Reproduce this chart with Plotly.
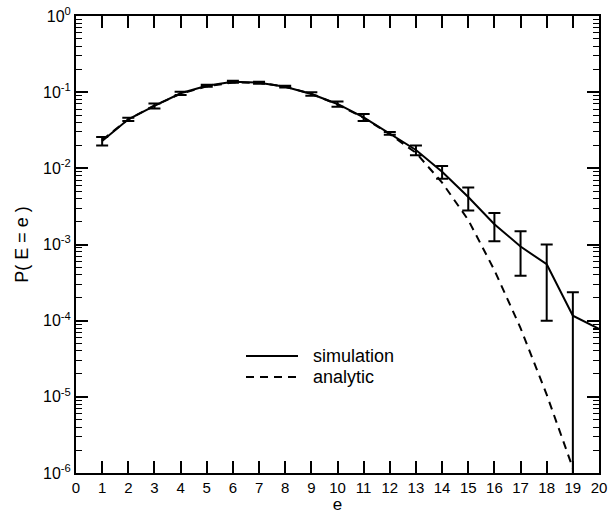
import plotly.graph_objects as go

# Energy level e
e_sim = list(range(1, 21))
# Simulated probability P(E = e) and its standard error
p_sim = [0.0229, 0.044, 0.066, 0.0966, 0.1216, 0.137, 0.133, 0.118, 0.0946, 0.070,
         0.0468, 0.0288, 0.0174, 0.0090, 0.0042, 0.00185, 0.00094, 0.00055, 0.000116, 0.000078]
p_sim_err = [0.0029, 0.0023, 0.005, 0.005, 0.004, 0.004, 0.004, 0.003, 0.005, 0.0055,
             0.0049, 0.0013, 0.0026, 0.0017, 0.0014, 0.00075, 0.00055, 0.00045, 0.00012, None]

# Analytic prediction
e_ana = list(range(1, 20))
p_ana = [0.0235, 0.044, 0.067, 0.095, 0.119, 0.134, 0.133, 0.118, 0.095, 0.069,
         0.046, 0.028, 0.0160, 0.0065, 0.0021, 0.00046, 8.0e-5, 1.07e-5, 1.16e-6]

# Log-axis decade labels
y_major = [1e0, 1e-1, 1e-2, 1e-3, 1e-4, 1e-5, 1e-6]
y_major_text = ["10<sup>0</sup>", "10<sup>-1</sup>", "10<sup>-2</sup>", "10<sup>-3</sup>",
                "10<sup>-4</sup>", "10<sup>-5</sup>", "10<sup>-6</sup>"]
y_minor = [k * 10.0 ** n for n in range(-6, 0) for k in range(2, 10)]

font_family = "Liberation Sans, Arial, Helvetica, sans-serif"

W, H = 608, 514
M_L, M_R, M_T, M_B = 76, 9, 16, 41
plot_w = W - M_L - M_R
plot_h = H - M_T - M_B


def px_to_paper(px, py):
    return (px - M_L) / plot_w, (H - M_B - py) / plot_h


fig = go.Figure()

fig.add_trace(go.Scatter(
    x=e_ana, y=p_ana, mode="lines", name="analytic", showlegend=False,
    line=dict(color="black", width=2, dash="8px,6px"),
))

fig.add_trace(go.Scatter(
    x=e_sim, y=p_sim, mode="lines", name="simulation", showlegend=False,
    line=dict(color="black", width=2),
    error_y=dict(type="data", array=p_sim_err, symmetric=True,
                 color="black", thickness=2, width=6),
))

axis_common = dict(
    showgrid=False, zeroline=False, automargin=False,
    showline=True, linecolor="black", linewidth=2, mirror="ticks",
    ticks="inside", tickcolor="black", tickwidth=1.5, ticklen=12,
)

fig.update_xaxes(
    range=[0, 20], tickmode="linear", tick0=0, dtick=1,
    tickfont=dict(family=font_family, size=15, color="black"),
    title=dict(text="e", font=dict(family=font_family, size=17, color="black"), standoff=0),
    **axis_common,
)

fig.update_yaxes(
    type="log", range=[-6, 0],
    tickmode="array", tickvals=y_major, ticktext=y_major_text,
    tickfont=dict(family=font_family, size=16, color="black"),
    minor=dict(ticks="inside", ticklen=6, tickwidth=1.2, tickcolor="black",
               tickmode="array", tickvals=y_minor, showgrid=False),
    title=dict(text="P( E = e )", font=dict(family=font_family, size=18, color="black"), standoff=10),
    **axis_common,
)

# Legend key: line samples with their labels
legend_rows = [("simulation", "solid", 356), ("analytic", "8px,6px", 377)]
shapes, annotations = [], []
for label, dash, py in legend_rows:
    x0, y0 = px_to_paper(246, py)
    x1, _ = px_to_paper(298, py)
    shapes.append(dict(type="line", xref="paper", yref="paper", x0=x0, x1=x1, y0=y0, y1=y0,
                       line=dict(color="black", width=2, dash=dash)))
    tx, _ = px_to_paper(311, py)
    annotations.append(dict(text=label, xref="paper", yref="paper", x=tx, y=y0,
                            xanchor="left", yanchor="middle", showarrow=False,
                            font=dict(family=font_family, size=18, color="black")))

fig.update_layout(
    width=W, height=H,
    margin=dict(l=M_L, r=M_R, t=M_T, b=M_B),
    paper_bgcolor="white", plot_bgcolor="white",
    font=dict(family=font_family, color="black"),
    showlegend=False,
    shapes=shapes, annotations=annotations,
)

fig.write_html("out.html")
